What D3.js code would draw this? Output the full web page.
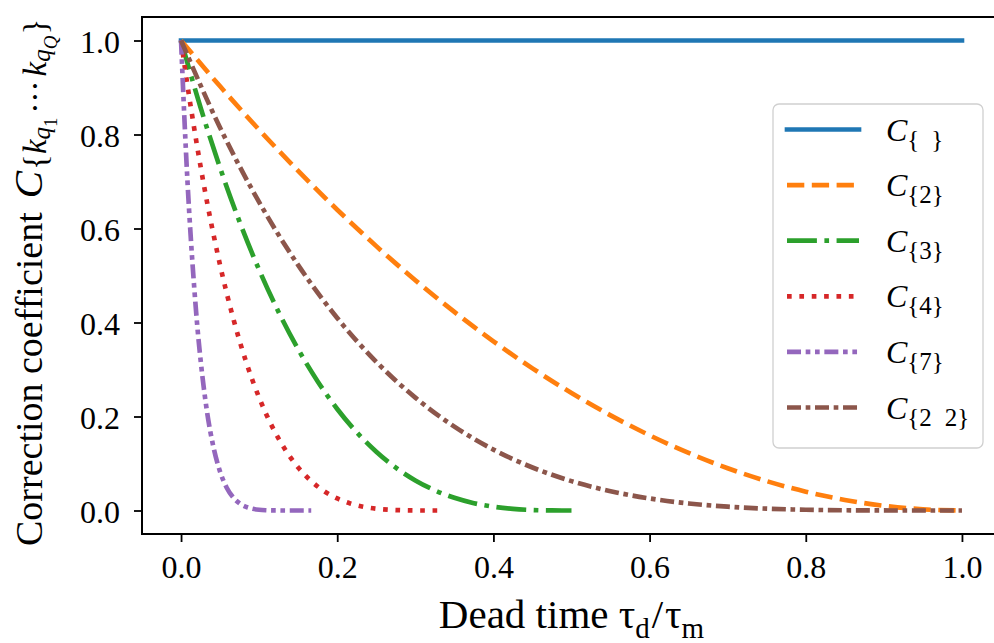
<!DOCTYPE html>
<html>
<head>
<meta charset="utf-8">
<script src="https://cdn.jsdelivr.net/npm/d3@7"></script>
<style>
  body { margin: 0; background: #fff; }
  svg { display: block; }
  svg text { font-family: "Liberation Serif", "Times New Roman", Times, "DejaVu Serif", serif; }
</style>
</head>
<body>
<svg id="chart" width="994" height="643"></svg>
<script>
// Tick values
const xTicks = [0.0, 0.2, 0.4, 0.6, 0.8, 1.0];
const yTicks = [0.0, 0.2, 0.4, 0.6, 0.8, 1.0];

// Series: correction coefficient vs. dead time ratio
const xEmpty = [0, 1];
const yEmpty = [1, 1];

const xTwo = [0, 0.05, 0.1, 0.15, 0.2, 0.25, 0.3, 0.35, 0.4, 0.45, 0.5,
              0.55, 0.6, 0.65, 0.7, 0.75, 0.8, 0.85, 0.9, 0.95, 1.0];
const yTwo = [1, 0.9025, 0.81, 0.7225, 0.64, 0.5625, 0.49, 0.4225, 0.36, 0.3025, 0.25,
              0.2025, 0.16, 0.1225, 0.09, 0.0625, 0.04, 0.0225, 0.01, 0.0025, 0];

const xThree = [0, 0.025, 0.05, 0.075, 0.1, 0.125, 0.15, 0.175, 0.2, 0.225, 0.25,
                0.275, 0.3, 0.325, 0.35, 0.375, 0.4, 0.425, 0.45, 0.475, 0.5];
const yThree = [1, 0.8574, 0.729, 0.6141, 0.512, 0.4219, 0.343, 0.2746, 0.216, 0.1664, 0.125,
                0.0911, 0.064, 0.0429, 0.027, 0.0156, 0.008, 0.0034, 0.001, 0.0001, 0];

const xFour = [0, 0.0083, 0.0167, 0.025, 0.0333, 0.0417, 0.05, 0.0667, 0.0833, 0.1, 0.1167,
               0.1333, 0.15, 0.1667, 0.1833, 0.2, 0.2167, 0.2333, 0.25, 0.2667,
               0.2833, 0.3, 0.3167, 0.3333];
const yFour = [1, 0.9037, 0.8145, 0.7321, 0.6561, 0.5862, 0.522, 0.4096, 0.3164, 0.2401, 0.1785,
               0.1296, 0.0915, 0.0625, 0.041, 0.0256, 0.015, 0.0081, 0.0039, 0.0016,
               0.0005, 0.0001, 0, 0];

const xSeven = [0, 0.0042, 0.0083, 0.0125, 0.0167, 0.0208, 0.025, 0.0292, 0.0333, 0.0417,
                0.05, 0.0583, 0.0667, 0.075, 0.0833, 0.0917, 0.1, 0.1083, 0.1167, 0.125,
                0.1333, 0.1417, 0.15, 0.1583, 0.1667];
const ySeven = [1, 0.8376, 0.6983, 0.5794, 0.4783, 0.3927, 0.3206, 0.2601, 0.2097, 0.1335,
                0.0824, 0.049, 0.028, 0.0152, 0.0078, 0.0037, 0.0016, 0.0006, 0.0002, 0.0001,
                0, 0, 0, 0, 0];

const xTwoTwo = [0, 0.05, 0.1, 0.15, 0.2, 0.25, 0.3, 0.35, 0.4, 0.45, 0.5,
                 0.55, 0.6, 0.65, 0.7, 0.75, 0.8, 0.85, 0.9, 0.95, 1.0];
const yTwoTwo = [1, 0.8145, 0.6561, 0.522, 0.4096, 0.3164, 0.2401, 0.1785, 0.1296, 0.0915, 0.0625,
                 0.041, 0.0256, 0.015, 0.0081, 0.0039, 0.0016, 0.0005, 0.0001, 0, 0];

// Legend subscripts (space separates the index groups)
const seriesLabels = ["{ }", "{2}", "{3}", "{4}", "{7}", "{2 2}"];

// Styles
const seriesColors = ["#1f77b4", "#ff7f0e", "#2ca02c", "#d62728", "#9467bd", "#8c564b"];
const seriesDashes = [null, "17.3,7.5", "29.9,7.5,4.67,7.5", "4.67,7.7",
                      "14,4.67,4.67,4.67,4.67,4.67", "14,4.67,4.67,4.67"];

const seriesX = [xEmpty, xTwo, xThree, xFour, xSeven, xTwoTwo];
const seriesY = [yEmpty, yTwo, yThree, yFour, ySeven, yTwoTwo];

const LW = 4.67;

const svg = d3.select("#chart");
const plot = { left: 142, right: 1001, top: 17, bottom: 534 };

const x = d3.scaleLinear().domain([-0.05, 1.05]).range([plot.left, plot.right]);
const y = d3.scaleLinear().domain([-0.05, 1.05]).range([plot.bottom, plot.top]);

// Curves
const line = d3.line()
  .x(d => x(d[0]))
  .y(d => y(d[1]))
  .curve(d3.curveMonotoneX);

seriesX.forEach((xs, i) => {
  const pts = xs.map((v, j) => [v, seriesY[i][j]]);
  svg.append("path")
    .datum(pts)
    .attr("d", line)
    .attr("fill", "none")
    .attr("stroke", seriesColors[i])
    .attr("stroke-width", LW)
    .attr("stroke-linejoin", "round")
    .attr("stroke-linecap", seriesDashes[i] ? "butt" : "square")
    .attr("stroke-dasharray", seriesDashes[i]);
});

// Axes
const xAxis = d3.axisBottom(x).tickValues(xTicks).tickFormat(d3.format(".1f"))
  .tickSizeInner(8).tickSizeOuter(0).tickPadding(14);
const yAxis = d3.axisLeft(y).tickValues(yTicks).tickFormat(d3.format(".1f"))
  .tickSizeInner(8).tickSizeOuter(0).tickPadding(14);

const gx = svg.append("g").attr("transform", `translate(0,${plot.bottom})`).call(xAxis);
const gy = svg.append("g").attr("transform", `translate(${plot.left},0)`).call(yAxis);

[gx, gy].forEach(g => {
  g.attr("font-family", null).attr("font-size", null);
  g.select(".domain").remove();
  g.selectAll(".tick line").attr("stroke", "#000").attr("stroke-width", 1.8);
  g.selectAll(".tick text")
    .attr("fill", "#000")
    .style("font-size", "32px");
});
gx.selectAll(".tick text").attr("dy", "0.7em");
gy.selectAll(".tick text").attr("dy", "0.36em");

// Frame
svg.append("rect")
  .attr("x", plot.left).attr("y", plot.top)
  .attr("width", plot.right - plot.left).attr("height", plot.bottom - plot.top)
  .attr("fill", "none").attr("stroke", "#000").attr("stroke-width", 2);

// X label
const xl = svg.append("text")
  .attr("x", (plot.left + plot.right) / 2).attr("y", 628)
  .attr("text-anchor", "middle")
  .style("font-size", "41px").attr("fill", "#000");
xl.append("tspan").text("Dead time τ");
xl.append("tspan").attr("dy", 10).style("font-size", "29px").text("d");
xl.append("tspan").attr("dy", -10).attr("dx", 2).text("/");
xl.append("tspan").attr("dx", 2).text("τ");
xl.append("tspan").attr("dy", 10).style("font-size", "29px").text("m");

// Y label
const yl = svg.append("text")
  .attr("transform", "translate(42,546) rotate(-90)")
  .attr("text-anchor", "start")
  .style("font-size", "38px").attr("fill", "#000");
yl.append("tspan").text("Correction coefficient");
yl.append("tspan").attr("dx", 14).style("font-size", "41px").style("font-style", "italic").text("C");
yl.append("tspan").attr("dy", 4).attr("dx", 1).style("font-size", "33px").text("{");
yl.append("tspan").style("font-size", "33px").style("font-style", "italic").text("k");
yl.append("tspan").attr("dy", 4).style("font-size", "25px").style("font-style", "italic").text("q");
yl.append("tspan").attr("dy", 7).style("font-size", "19px").text("1");
yl.append("tspan").attr("dy", -11).attr("dx", 4).style("font-size", "33px").text("···");
yl.append("tspan").attr("dx", 4).style("font-size", "33px").style("font-style", "italic").text("k");
yl.append("tspan").attr("dy", 4).style("font-size", "25px").style("font-style", "italic").text("q");
yl.append("tspan").attr("dy", 7).style("font-size", "19px").style("font-style", "italic").text("Q");
yl.append("tspan").attr("dy", -11).attr("dx", 1).style("font-size", "33px").text("}");

// Legend
const lg = svg.append("g");
lg.append("rect")
  .attr("x", 773).attr("y", 104).attr("width", 210).attr("height", 344)
  .attr("rx", 6).attr("ry", 6)
  .attr("fill", "#fff").attr("fill-opacity", 0.8)
  .attr("stroke", "#d0d0d0").attr("stroke-width", 1.3);

const rowY = d3.scaleLinear().domain([0, seriesLabels.length - 1]).range([129.5, 407.5]);

seriesLabels.forEach((lab, i) => {
  const cy = rowY(i);
  lg.append("line")
    .attr("x1", 787).attr("x2", 859).attr("y1", cy).attr("y2", cy)
    .attr("stroke", seriesColors[i])
    .attr("stroke-width", LW)
    .attr("stroke-linecap", seriesDashes[i] ? "butt" : "square")
    .attr("stroke-dasharray", seriesDashes[i]);

  const t = lg.append("text")
    .attr("x", 886).attr("y", cy + 11)
    .style("font-size", "32px").attr("fill", "#000");
  t.append("tspan").style("font-style", "italic").text("C");
  const parts = lab.split(" ");
  parts.forEach((p, k) => {
    const s = t.append("tspan").style("font-size", "25px").text(p);
    if (k === 0) s.attr("dy", 7);
    else s.attr("dx", /\d/.test(p) ? 13 : 12);
  });
});
</script>
</body>
</html>
